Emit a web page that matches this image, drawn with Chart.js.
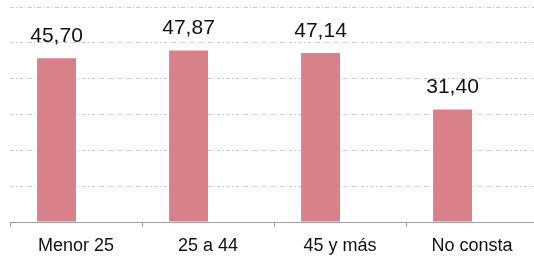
<!DOCTYPE html>
<html lang="es">

<head>
    <meta charset="UTF-8">
    <meta name="viewport" content="width=device-width, initial-scale=1.0">
    <title>Edad media</title>
    <style>
        body {
            margin: 0;
            padding: 0;
            background-color: #ffffff;
            overflow: hidden;
        }

        #ageChart {
            display: block;
        }
    </style>
</head>

<body>
    <canvas id="ageChart" width="548" height="256"></canvas>
    <script src="https://cdn.jsdelivr.net/npm/chart.js@4.4.1/dist/chart.umd.min.js"></script>
    <script>
        // Data
        const categories = ["Menor 25", "25 a 44", "45 y más", "No consta"];
        const values = [45.70, 47.87, 47.14, 31.40];
        // the original chart reserves room for a second (empty) series
        const emptySeries = [null, null, null, null];
        const yMax = 60;
        const yStep = 10;

        // Draw the value above each bar, Spanish decimal comma
        const valueLabels = {
            id: "valueLabels",
            afterDatasetsDraw(chart) {
                const ctx = chart.ctx;
                const meta = chart.getDatasetMeta(0);
                ctx.save();
                ctx.font = "21px 'Liberation Sans', Arial, sans-serif";
                ctx.fillStyle = "#111111";
                ctx.textAlign = "center";
                ctx.textBaseline = "alphabetic";
                meta.data.forEach((bar, i) => {
                    const text = values[i].toFixed(2).replace(".", ",");
                    ctx.fillText(text, bar.x, bar.y - 16);
                });
                ctx.restore();
            }
        };

        const ctx = document.getElementById("ageChart").getContext("2d");
        new Chart(ctx, {
            type: "bar",
            data: {
                labels: categories,
                datasets: [{
                    data: values,
                    backgroundColor: "#d9818a",
                    borderWidth: 0
                }, {
                    data: emptySeries,
                    backgroundColor: "#9db9d9",
                    borderWidth: 0
                }]
            },
            options: {
                responsive: false,
                animation: false,
                devicePixelRatio: 1,
                categoryPercentage: 0.59,
                barPercentage: 1,
                layout: {
                    padding: { top: 7, left: 10, right: 10, bottom: 0 }
                },
                plugins: {
                    legend: { display: false },
                    tooltip: { enabled: false }
                },
                scales: {
                    x: {
                        grid: {
                            display: true,
                            drawOnChartArea: false,
                            drawTicks: true,
                            tickLength: 5,
                            color: "#a0a0a0",
                            offset: true
                        },
                        border: { display: true, color: "#a0a0a0", width: 1 },
                        ticks: {
                            color: "#111111",
                            padding: 8,
                            maxRotation: 0,
                            font: { family: "'Liberation Sans', Arial, sans-serif", size: 18 }
                        },
                        // keep the axis line where the original has it
                        afterFit: (scale) => { scale.height = 34; }
                    },
                    y: {
                        min: 0,
                        max: yMax,
                        ticks: { display: false, stepSize: yStep },
                        border: { display: false, dash: [4, 2, 1, 2] },
                        grid: {
                            drawTicks: false,
                            color: "#cccccc",
                            lineWidth: 1
                        },
                        afterFit: (scale) => { scale.width = 0; }
                    }
                }
            },
            plugins: [valueLabels]
        });
    </script>
</body>

</html>
